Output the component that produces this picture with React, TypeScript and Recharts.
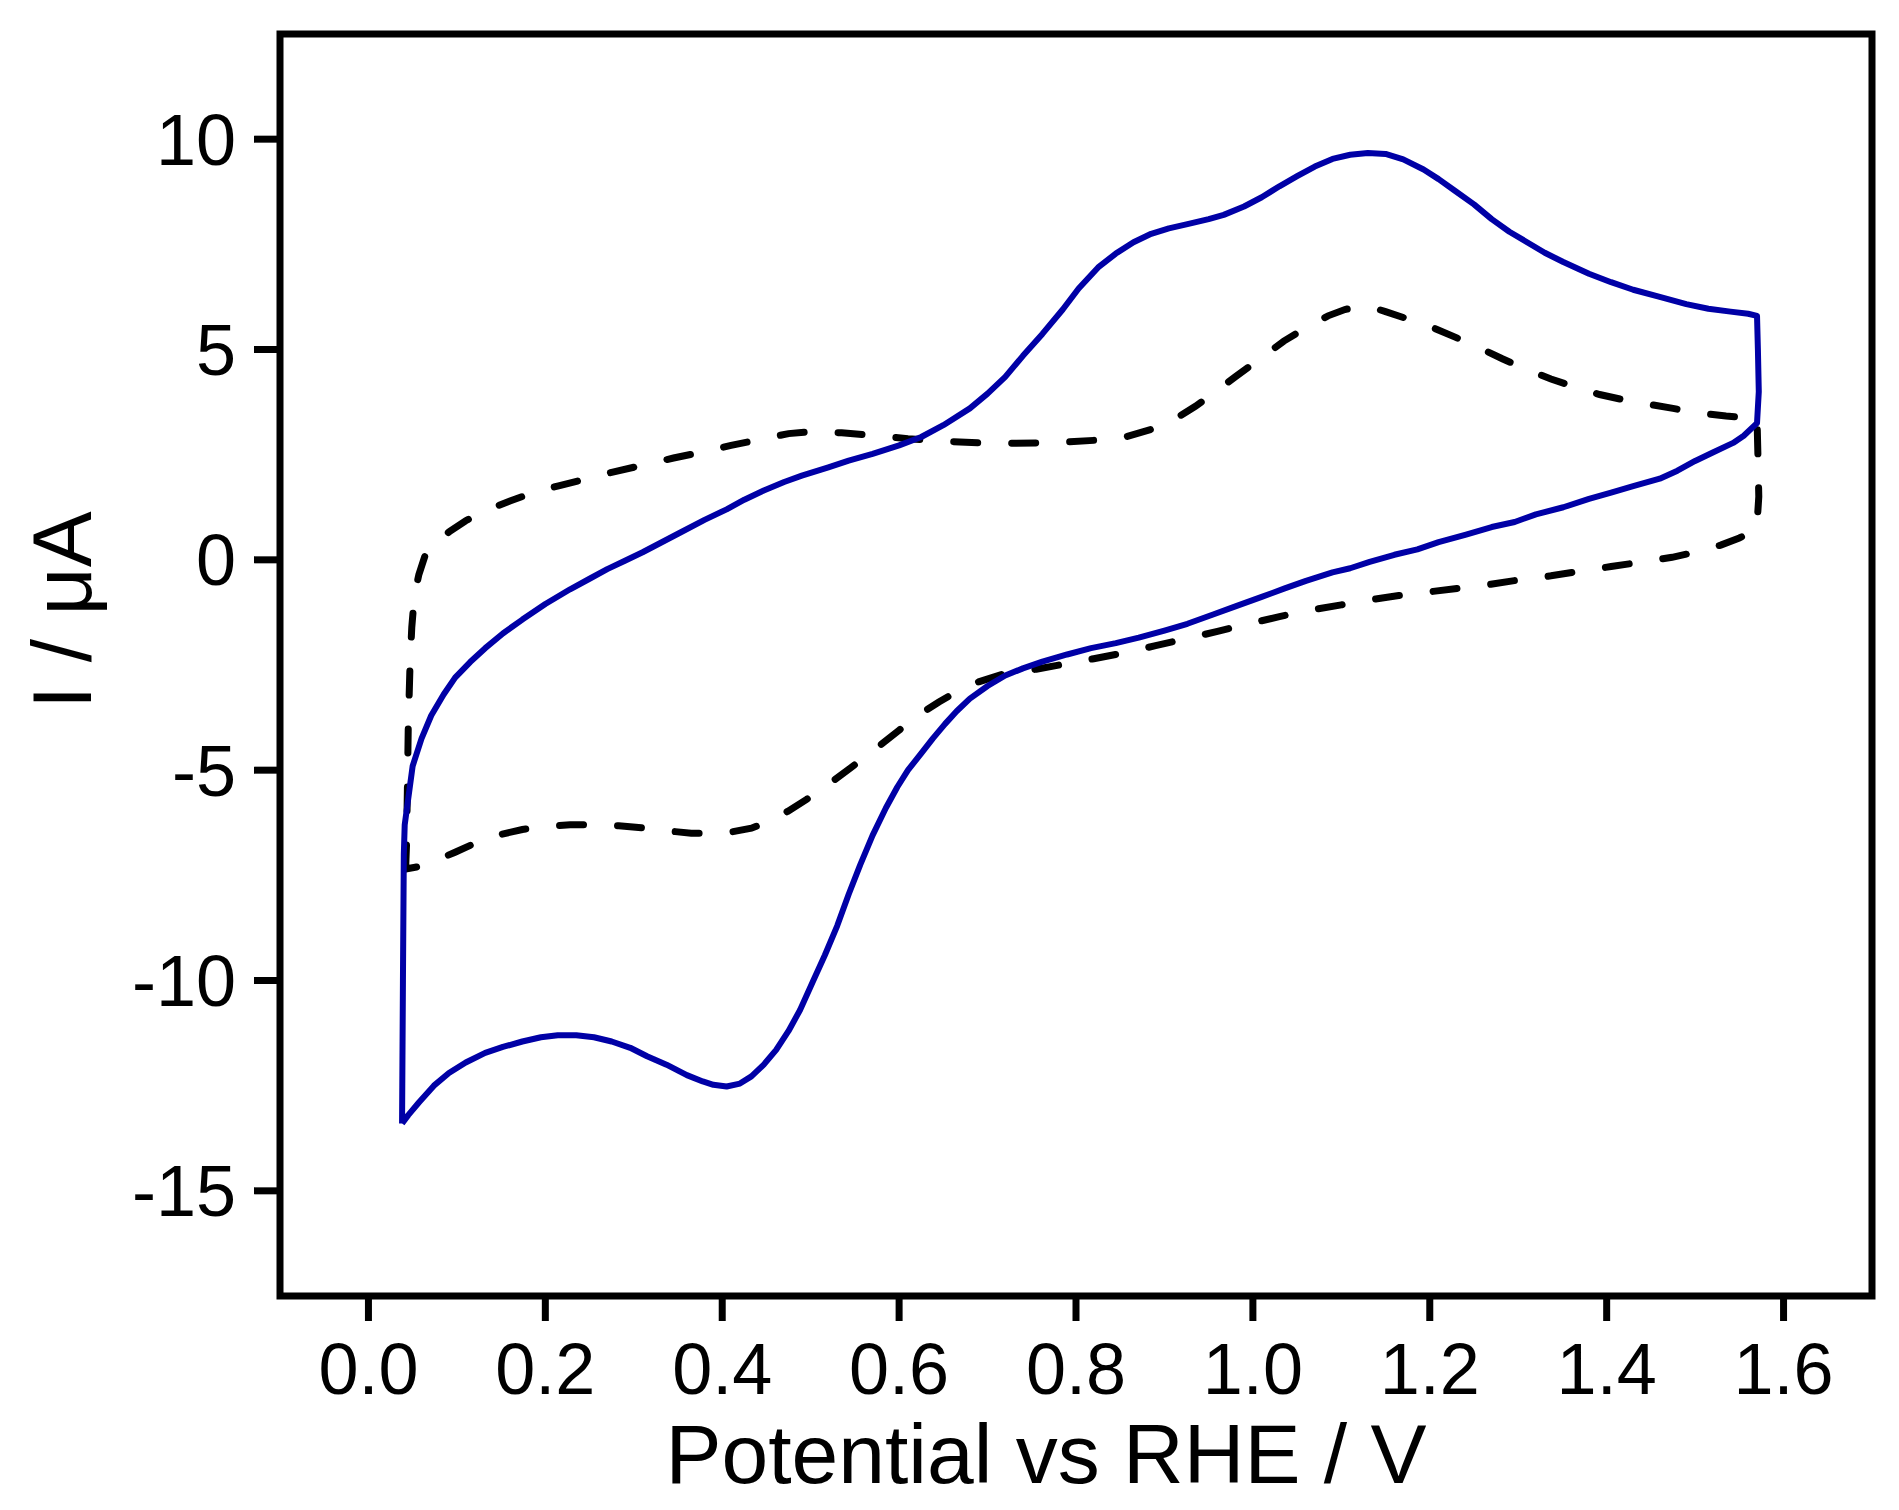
import { LineChart, Line, XAxis, YAxis, ReferenceArea } from 'recharts'

const FONT = '"Liberation Sans", Arial, Helvetica, sans-serif'
const BLUE = '#0000a6'

const X_TICKS = [0, 0.2, 0.4, 0.6, 0.8, 1.0, 1.2, 1.4, 1.6]
const Y_TICKS = [-15, -10, -5, 0, 5, 10]

// solid blue CV, anodic sweep (0.04 -> 1.57 V)
const BLUE_FWD: [number, number][] = [
  [0.038, -13.4], [0.039, -10.0], [0.04, -7.0], [0.041, -6.3], [0.05, -4.9], [0.06, -4.25],
  [0.071, -3.7], [0.085, -3.2], [0.098, -2.8], [0.115, -2.43], [0.132, -2.1], [0.152, -1.75],
  [0.174, -1.42], [0.2, -1.05], [0.228, -0.7], [0.25, -0.45], [0.27, -0.22], [0.29, -0.02],
  [0.31, 0.18], [0.33, 0.4], [0.35, 0.62], [0.38, 0.95], [0.405, 1.2], [0.425, 1.43],
  [0.447, 1.65], [0.47, 1.85], [0.49, 2.0], [0.52, 2.2], [0.543, 2.36], [0.57, 2.52],
  [0.6, 2.72], [0.625, 2.92], [0.65, 3.2], [0.68, 3.6], [0.7, 3.95], [0.72, 4.35],
  [0.74, 4.85], [0.762, 5.37], [0.785, 5.95], [0.803, 6.45], [0.825, 6.95], [0.845, 7.28],
  [0.865, 7.55], [0.885, 7.75], [0.905, 7.88], [0.926, 7.98], [0.95, 8.1], [0.967, 8.2],
  [0.99, 8.4], [1.01, 8.62], [1.03, 8.88], [1.05, 9.12], [1.07, 9.35], [1.09, 9.53],
  [1.11, 9.63], [1.13, 9.67], [1.15, 9.65], [1.17, 9.52], [1.193, 9.28], [1.21, 9.05],
  [1.228, 8.78], [1.25, 8.45], [1.27, 8.1], [1.29, 7.8], [1.31, 7.55], [1.33, 7.3],
  [1.351, 7.08], [1.38, 6.8], [1.405, 6.6], [1.43, 6.42], [1.46, 6.25], [1.49, 6.08],
  [1.515, 5.97], [1.54, 5.9], [1.56, 5.85], [1.57, 5.8],
]

// solid blue CV, cathodic sweep (1.57 -> 0.04 V)
const BLUE_REV: [number, number][] = [
  [1.571, 5.0], [1.572, 4.0], [1.57, 3.25], [1.555, 2.95], [1.543, 2.78], [1.52, 2.55],
  [1.5, 2.35], [1.48, 2.12], [1.46, 1.93], [1.43, 1.75], [1.405, 1.6], [1.38, 1.45],
  [1.351, 1.25], [1.32, 1.08], [1.296, 0.9], [1.27, 0.78], [1.241, 0.6], [1.21, 0.42],
  [1.186, 0.25], [1.16, 0.12], [1.132, -0.05], [1.11, -0.2], [1.09, -0.3], [1.06, -0.5],
  [1.036, -0.68], [1.01, -0.88], [0.981, -1.1], [0.955, -1.3], [0.926, -1.52], [0.9, -1.68],
  [0.871, -1.85], [0.845, -1.98], [0.817, -2.1], [0.79, -2.25], [0.762, -2.42], [0.74, -2.58],
  [0.72, -2.75], [0.7, -3.0], [0.68, -3.3], [0.665, -3.6], [0.652, -3.9], [0.638, -4.25],
  [0.625, -4.6], [0.61, -5.0], [0.598, -5.4], [0.585, -5.9], [0.57, -6.55], [0.556, -7.25],
  [0.543, -7.95], [0.53, -8.7], [0.516, -9.4], [0.502, -10.05], [0.488, -10.7], [0.475, -11.2],
  [0.461, -11.65], [0.447, -12.0], [0.433, -12.28], [0.42, -12.45], [0.405, -12.52], [0.39, -12.48],
  [0.378, -12.4], [0.36, -12.25], [0.337, -12.0], [0.315, -11.8], [0.296, -11.6], [0.275, -11.45],
  [0.255, -11.35], [0.235, -11.3], [0.214, -11.3], [0.195, -11.35], [0.174, -11.45], [0.152, -11.58],
  [0.132, -11.72], [0.11, -11.95], [0.091, -12.2], [0.074, -12.5], [0.057, -12.9], [0.045, -13.2],
  [0.038, -13.4],
]

// dashed black CV, anodic sweep
const DASH_FWD: [number, number][] = [
  [0.042, -7.35], [0.043, -6.8], [0.044, -5.5], [0.045, -4.0], [0.047, -2.5], [0.049, -1.6],
  [0.052, -0.85], [0.057, -0.35], [0.064, 0.1], [0.075, 0.38], [0.092, 0.68], [0.11, 0.93],
  [0.132, 1.17], [0.16, 1.4], [0.187, 1.6], [0.215, 1.76], [0.242, 1.9], [0.275, 2.08],
  [0.31, 2.25], [0.345, 2.42], [0.379, 2.57], [0.41, 2.72], [0.447, 2.88], [0.475, 3.0],
  [0.502, 3.05], [0.535, 3.02], [0.57, 2.96], [0.61, 2.88], [0.652, 2.82], [0.69, 2.78],
  [0.72, 2.77], [0.755, 2.78], [0.789, 2.8], [0.82, 2.84], [0.857, 2.93], [0.885, 3.1],
  [0.912, 3.35], [0.935, 3.65], [0.953, 3.92], [0.98, 4.35], [1.008, 4.78], [1.035, 5.2],
  [1.063, 5.56], [1.085, 5.8], [1.104, 5.95], [1.12, 6.02], [1.132, 6.02], [1.15, 5.9],
  [1.173, 5.74], [1.2, 5.55], [1.228, 5.3], [1.255, 5.05], [1.282, 4.78], [1.31, 4.52],
  [1.337, 4.3], [1.365, 4.1], [1.392, 3.93], [1.42, 3.8], [1.447, 3.7], [1.475, 3.6],
  [1.5, 3.5], [1.535, 3.42], [1.57, 3.36],
]

// dashed black CV, cathodic sweep
const DASH_REV: [number, number][] = [
  [1.571, 2.5], [1.572, 1.5], [1.57, 0.85], [1.568, 0.7], [1.55, 0.52], [1.529, 0.35],
  [1.5, 0.18], [1.474, 0.06], [1.44, -0.05], [1.405, -0.16], [1.37, -0.27], [1.337, -0.38],
  [1.3, -0.48], [1.269, -0.58], [1.235, -0.67], [1.2, -0.76], [1.165, -0.85], [1.132, -0.95],
  [1.1, -1.07], [1.063, -1.2], [1.03, -1.35], [0.995, -1.52], [0.96, -1.7], [0.926, -1.87],
  [0.89, -2.04], [0.857, -2.2], [0.82, -2.35], [0.789, -2.47], [0.755, -2.6], [0.72, -2.7],
  [0.69, -2.9], [0.666, -3.12], [0.645, -3.38], [0.625, -3.65], [0.6, -4.05], [0.57, -4.55],
  [0.545, -4.95], [0.516, -5.4], [0.495, -5.7], [0.474, -5.98], [0.452, -6.22], [0.433, -6.38],
  [0.41, -6.47], [0.392, -6.5], [0.365, -6.5], [0.337, -6.44], [0.31, -6.37], [0.283, -6.32],
  [0.255, -6.3], [0.228, -6.3], [0.2, -6.34], [0.174, -6.41], [0.145, -6.55], [0.119, -6.75],
  [0.098, -6.95], [0.078, -7.13], [0.06, -7.28], [0.042, -7.35],
]

const toRows = (pts: [number, number][]) => pts.map(([x, y]) => ({ x, y }))
const blueLoop = toRows([...BLUE_FWD, ...BLUE_REV])
const dashLoop = toRows([...DASH_FWD, ...DASH_REV])

const tickStyle = { fill: '#000', fontSize: 72, fontFamily: FONT }

export default function App() {
  return (
    <div style={{ position: 'absolute', left: 0, top: 0, width: 1899, height: 1510, background: '#fff' }}>
      <LineChart width={1899} height={1510} margin={{ top: 34, right: 27, left: 0, bottom: 0 }}>
        <XAxis
          type="number"
          dataKey="x"
          domain={[-0.1, 1.7]}
          ticks={X_TICKS}
          interval={0}
          allowDataOverflow
          tickFormatter={v => v.toFixed(1)}
          tick={tickStyle}
          tickSize={25}
          tickMargin={22}
          tickLine={{ stroke: '#000', strokeWidth: 7 }}
          axisLine={false}
          height={214}
        />
        <YAxis
          type="number"
          dataKey="y"
          domain={[-17.5, 12.5]}
          ticks={Y_TICKS}
          interval={0}
          allowDataOverflow
          tick={tickStyle}
          tickSize={26}
          tickMargin={18}
          tickLine={{ stroke: '#000', strokeWidth: 7 }}
          axisLine={false}
          width={280}
        />
        <ReferenceArea x1={-0.1} x2={1.7} y1={-17.5} y2={12.5} fill="none" stroke="#000" strokeWidth={7} />
        <Line
          data={dashLoop}
          dataKey="y"
          type="linear"
          stroke="#000"
          strokeWidth={7}
          strokeDasharray="24 34"
          strokeLinecap="round"
          dot={false}
          isAnimationActive={false}
        />
        <Line
          data={blueLoop}
          dataKey="y"
          type="linear"
          stroke={BLUE}
          strokeWidth={6}
          strokeLinejoin="round"
          dot={false}
          isAnimationActive={false}
        />
      </LineChart>
      <svg width={1899} height={1510} style={{ position: 'absolute', left: 0, top: 0, pointerEvents: 'none' }}>
        <text x={1046} y={1483} textAnchor="middle" fontSize={84} fontFamily={FONT} fill="#000">
          Potential vs RHE / V
        </text>
        <text x={91} y={610} textAnchor="middle" fontSize={84} fontFamily={FONT} fill="#000" transform="rotate(-90, 91, 610)">
          I / μA
        </text>
      </svg>
    </div>
  )
}
